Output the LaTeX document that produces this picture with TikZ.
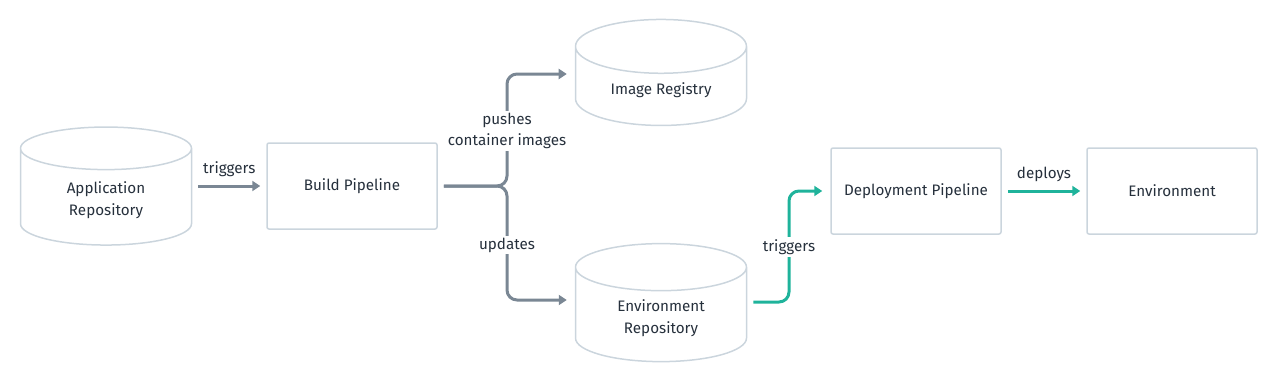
\documentclass[tikz,border=0pt]{standalone}
\usepackage{fontspec}
\setmainfont{Fira Sans}
\usetikzlibrary{arrows.meta,shapes.geometric}

\definecolor{rim}{HTML}{CBD5DD}
\definecolor{flow}{HTML}{7A8794}
\definecolor{sync}{HTML}{1FB39B}
\definecolor{ink}{HTML}{26303C}

\tikzset{
  stage/.style={draw=rim, line width=1.5pt, rounded corners=2pt, minimum width=170pt,
    minimum height=86pt, text=ink, font=\fontsize{15.2}{18}\selectfont},
  store/.style={cylinder, shape border rotate=90, aspect=0.5, draw=rim, line width=1.5pt,
    minimum width=171pt, minimum height=118pt, align=center, text=ink,
    font=\fontsize{15.2}{22}\selectfont},
  link/.style={->, line width=3pt, rounded corners=10pt},
  tag/.style={fill=white, text=ink, inner sep=2pt, align=center,
    font=\fontsize{15.2}{22}\selectfont}
}

\begin{document}
\begin{tikzpicture}[x=1pt, y=-1pt, >={Triangle[length=8pt,width=10pt]}]

\useasboundingbox (0,0) rectangle (1280,384);

% storage
\node[store] (apprepo) at (106,200) {Application\\Repository};
\node[store, minimum height=106pt] (registry) at (661,90) {Image Registry};
\node[store] (envrepo) at (661,318) {Environment\\Repository};

% pipelines
\node[stage] (build) at (352,186) {Build Pipeline};
\node[stage] (deploy) at (916,191) {Deployment Pipeline};
\node[stage] (env) at (1172,191) {Environment};

\coordinate (fork) at (507,186);
\coordinate (hop) at (789,191);

\draw[link, flow] ([xshift=6pt]apprepo.east |- build) -- ([xshift=-6pt]build.west)
  node[midway, above=6pt, tag] {triggers};
\draw[link, flow] ([xshift=6pt]build.east) -- (fork) -- (fork |- 0,74) -- ([xshift=-8pt]registry.west |- 0,74);
\draw[link, flow] ([xshift=6pt]build.east) -- (fork) -- (fork |- 0,300) -- ([xshift=-8pt]envrepo.west |- 0,300);
\node[tag] (pushes) at (507,131) {pushes\\[-1pt]container images};
\node[tag] (updates) at (507,245) {updates};

\draw[link, sync] ([xshift=6pt]envrepo.east |- 0,302) -- (hop |- 0,302) -- (hop) -- ([xshift=-8pt]deploy.west);
\node[tag] (again) at (789,247) {triggers};

\draw[link, sync] ([xshift=6pt]deploy.east) -- ([xshift=-6pt]env.west)
  node[midway, above=6pt, tag] {deploys};

\end{tikzpicture}
\end{document}
